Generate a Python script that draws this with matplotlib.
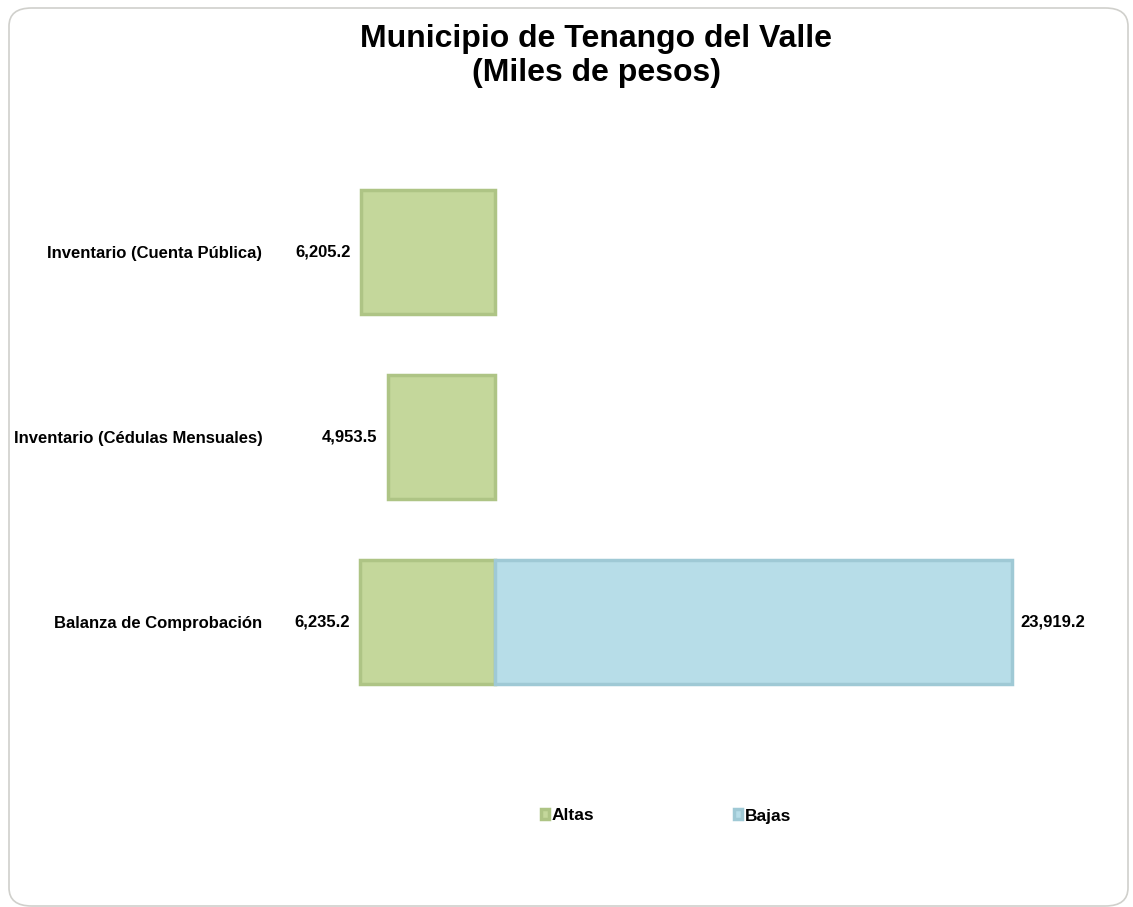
import matplotlib.pyplot as plt
from matplotlib.patches import FancyBboxPatch

categorias = ["Inventario (Cuenta Pública)", "Inventario (Cédulas Mensuales)", "Balanza de Comprobación"]
altas = [6205.2, 4953.5, 6235.2]
bajas = [0, 0, 23919.2]

plt.rcParams["font.family"] = ["Liberation Sans", "DejaVu Sans"]

W, H = 1133, 907
fig = plt.figure(figsize=(W / 100, H / 100), dpi=100)

# marco redondeado del grafico
marco = FancyBboxPatch((9 / W, 1 - 906 / H), 1119 / W, 898 / H,
                       boxstyle="round,pad=0,rounding_size=0.02",
                       transform=fig.transFigure, facecolor="none",
                       edgecolor="#d0d0cc", linewidth=1.2, zorder=-1)
fig.patches.append(marco)

# ejes: 0 en x=495 px, escala ~0.02162 px por miles
izq, der = 272, 1100
arriba, abajo = 159.5, 714.5
ax = fig.add_axes([izq / W, 1 - abajo / H, (der - izq) / W, (abajo - arriba) / H])
escala = 0.02162
ax.set_xlim(-(495 - izq) / escala, (der - 495) / escala)
ax.set_ylim(2.5, -0.5)
ax.patch.set_alpha(0)

y = list(range(len(categorias)))
alto = 0.67
ax.barh(y, [-a for a in altas], height=alto, color="#c4d79b",
        edgecolor="#aec485", linewidth=2.5, label="Altas")
# solo las filas con bajas distintas de cero
yb = [i for i, b in zip(y, bajas) if b > 0]
vb = [b for b in bajas if b > 0]
ax.barh(yb, vb, height=alto, color="#b7dde8",
        edgecolor="#9fc9d5", linewidth=2.5, label="Bajas")

for i, a in enumerate(altas):
    ax.text(-a - 480, i, f"{a:,.1f}", ha="right", va="center",
            fontsize=12, fontweight="bold")
for i, b in zip(yb, vb):
    ax.text(b + 380, i, f"{b:,.1f}", ha="left", va="center",
            fontsize=12, fontweight="bold")

ax.set_yticks(y)
ax.set_yticklabels(categorias, fontsize=12, fontweight="bold")
ax.tick_params(axis="y", length=0, pad=7)
ax.set_xticks([])
for s in ax.spines.values():
    s.set_visible(False)

fig.text(596 / W, 1 - 56 / H, "Municipio de Tenango del Valle\n(Miles de pesos)",
         ha="center", va="center", fontsize=23, fontweight="bold", linespacing=1.2)

fig.legend(loc="center", bbox_to_anchor=(666 / W, 1 - 816 / H), ncol=2,
           frameon=False, handlelength=0.5, handleheight=0.5, handletextpad=0.15,
           columnspacing=8.0, prop={"size": 12.5, "weight": "bold"})

fig.savefig("out.png", dpi=100, facecolor="white")
